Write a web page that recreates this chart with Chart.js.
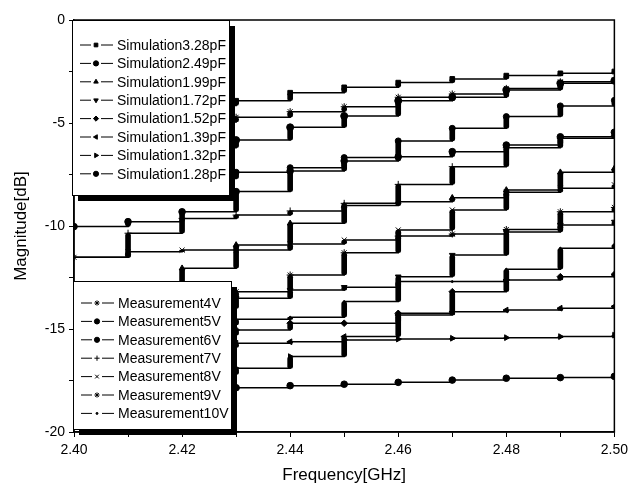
<!DOCTYPE html>
<html>
<head>
<meta charset="utf-8">
<script src="https://cdn.jsdelivr.net/npm/chart.js@4.4.1/dist/chart.umd.min.js"></script>
<style>
    html, body { margin: 0; padding: 0; background: #fff; }
</style>
</head>
<body>
<canvas id="chartArea" width="633" height="494"></canvas>
<script>
// frequency points [GHz]
var freqs = [2.40, 2.41, 2.42, 2.43, 2.44, 2.45, 2.46, 2.47, 2.48, 2.49, 2.50];

// magnitude [dB] (values left of 2.43 are mostly behind the legends)
var sim328 = [-4.60, -4.40, -4.15, -3.92, -3.53, -3.27, -3.04, -2.86, -2.70, -2.59, -2.50];
var sim249 = [-10.03, -9.79, -9.31, -8.33, -7.33, -6.84, -6.64, -6.39, -6.07, -5.67, -5.45];
var sim199 = [-13.50, -12.90, -12.05, -10.92, -9.87, -9.01, -8.82, -8.63, -8.25, -7.39, -7.20];
var sim172 = [-14.80, -14.40, -14.00, -13.51, -13.11, -12.97, -12.46, -11.41, -10.29, -9.95, -9.80];
var sim152 = [-15.80, -15.50, -15.30, -15.05, -14.72, -14.72, -14.24, -13.19, -12.62, -12.46, -12.35];
var sim139 = [-16.50, -16.20, -15.90, -15.69, -15.62, -15.37, -14.32, -14.16, -14.08, -13.99, -13.90];
var sim132 = [-17.90, -17.60, -17.20, -16.91, -16.34, -15.53, -15.49, -15.45, -15.42, -15.37, -15.30];
var sim128 = [-18.10, -18.00, -17.93, -17.85, -17.75, -17.68, -17.59, -17.48, -17.39, -17.36, -17.30];

var meas4V = [-5.50, -5.20, -4.95, -4.72, -4.45, -4.21, -3.75, -3.59, -3.32, -3.00, -2.90];
var meas5V = [-7.00, -6.60, -6.20, -5.83, -5.21, -4.66, -3.92, -3.75, -3.40, -3.07, -2.95];
var meas6V = [-8.30, -8.00, -7.70, -7.39, -7.17, -6.68, -5.87, -5.26, -4.69, -4.17, -3.90];
var meas7V = [-11.52, -10.35, -9.63, -9.47, -9.27, -8.90, -7.98, -7.12, -6.20, -5.74, -5.60];
var meas8V = [-11.52, -11.25, -11.17, -11.17, -10.87, -10.68, -10.19, -9.22, -8.36, -8.17, -8.00];
var meas9V = [-14.20, -13.90, -13.60, -13.19, -12.38, -11.30, -10.49, -10.39, -10.17, -9.31, -9.10];
var meas10V = [-15.40, -15.10, -14.80, -14.53, -14.43, -13.67, -12.70, -12.70, -12.10, -11.08, -10.90];

var simLabels = ['Simulation3.28pF', 'Simulation2.49pF', 'Simulation1.99pF', 'Simulation1.72pF',
    'Simulation1.52pF', 'Simulation1.39pF', 'Simulation1.32pF', 'Simulation1.28pF'];
var measLabels = ['Measurement4V', 'Measurement5V', 'Measurement6V', 'Measurement7V',
    'Measurement8V', 'Measurement9V', 'Measurement10V'];

var simSeries = [sim328, sim249, sim199, sim172, sim152, sim139, sim132, sim128];
var measSeries = [meas4V, meas5V, meas6V, meas7V, meas8V, meas9V, meas10V];

var simMarks = [['rect', 0], ['circle', 0], ['triangle', 0], ['triangle', 180],
    ['rectRot', 0], ['triangle', 270], ['triangle', 90], ['circle', 0]];
var measMarks = [['star', 0], ['circle', 0], ['circle', 0], ['cross', 0],
    ['crossRot', 0], ['star', 0], ['circle', 0]];
var measRadius = [3.5, 3.5, 3, 3.5, 3.5, 3.5, 1];

function toPoints(vals) {
    return vals.map(function (v, i) { return { x: freqs[i], y: v }; });
}

function lineSet(label, vals, mark, radius, group) {
    return {
        type: 'line',
        label: label,
        group: group,
        data: toPoints(vals),
        stepped: 'before',
        borderColor: '#000',
        backgroundColor: '#000',
        borderWidth: 1.5,
        pointStyle: mark[0],
        pointRotation: mark[1],
        pointRadius: radius,
        pointBorderWidth: 1,
        pointBackgroundColor: '#000',
        pointBorderColor: '#000',
        fill: false,
        order: 2
    };
}

var datasets = [];
simSeries.forEach(function (s, k) { datasets.push(lineSet(simLabels[k], s, simMarks[k], 3.3, 'sim')); });
measSeries.forEach(function (s, k) { datasets.push(lineSet(measLabels[k], s, measMarks[k], measRadius[k], 'meas')); });

// the thick vertical risers at each step
var risers = [];
simSeries.concat(measSeries).forEach(function (s) {
    for (var i = 1; i < s.length; i++) {
        risers.push({ x: freqs[i], y: [s[i - 1], s[i]] });
    }
});
datasets.push({
    type: 'bar',
    label: '',
    data: risers,
    backgroundColor: '#000',
    borderWidth: 0,
    barThickness: 5,
    borderRadius: 2.5,
    borderSkipped: false,
    grouped: false,
    order: 1
});

function drawBox(chart, x, y, w, h, group, firstRow) {
    var ctx = chart.ctx;
    ctx.fillStyle = '#000';
    ctx.fillRect(x + 6, y + 6, w, h);
    ctx.fillStyle = '#fff';
    ctx.fillRect(x, y, w, h);
    ctx.strokeStyle = '#000';
    ctx.lineWidth = 1;
    ctx.strokeRect(x + 0.5, y + 0.5, w, h);
    var row = 0;
    chart.data.datasets.forEach(function (ds) {
        if (ds.group !== group) return;
        var ry = y + firstRow + row * 18.4;
        ctx.strokeStyle = '#000';
        ctx.lineWidth = 1;
        ctx.beginPath();
        ctx.moveTo(x + 8, ry);
        ctx.lineTo(x + 19, ry);
        ctx.moveTo(x + 29, ry);
        ctx.lineTo(x + 41, ry);
        ctx.stroke();
        ctx.fillStyle = '#000';
        Chart.helpers.drawPoint(ctx, {
            pointStyle: ds.pointStyle,
            rotation: ds.pointRotation,
            radius: Math.min(ds.pointRadius, 2.6),
            borderWidth: 1
        }, x + 24, ry);
        ctx.fillStyle = '#000';
        ctx.font = '14px "Liberation Sans", Arial, sans-serif';
        ctx.textAlign = 'left';
        ctx.textBaseline = 'middle';
        ctx.fillText(ds.label, x + 45, ry + 1);
        row++;
    });
}

var boxPlugin = {
    id: 'boxLegend',
    afterDatasetsDraw: function (chart) {
        var ctx = chart.ctx, a = chart.chartArea;
        ctx.save();
        ctx.strokeStyle = '#000';
        ctx.lineWidth = 1.5;
        ctx.strokeRect(a.left, a.top, a.right - a.left, a.bottom - a.top);
        drawBox(chart, a.left - 2, a.top, 157, 175, 'sim', 25);
        drawBox(chart, a.left - 1, a.top + 261, 158, 148, 'meas', 22);
        ctx.restore();
    }
};

var ctx = document.getElementById('chartArea').getContext('2d');
var myChart = new Chart(ctx, {
    type: 'line',
    data: { datasets: datasets },
    options: {
        responsive: false,
        animation: false,
        devicePixelRatio: 1,
        layout: { padding: { left: 0, right: 18, top: 20, bottom: 0 } },
        plugins: {
            legend: { display: false },
            tooltip: { enabled: false }
        },
        scales: {
            x: {
                type: 'linear',
                min: 2.40,
                max: 2.50,
                offset: false,
                afterFit: function (scale) { scale.height = 62; },
                grid: { drawOnChartArea: false, drawTicks: true, tickLength: 5, color: '#000', offset: false },
                border: { color: '#000', width: 1.5 },
                ticks: {
                    stepSize: 0.01,
                    autoSkip: false,
                    maxRotation: 0,
                    padding: 5,
                    color: '#000',
                    font: { family: '"Liberation Sans", Arial, sans-serif', size: 14 },
                    callback: function (value) {
                        var v = Math.round(value * 100);
                        return v % 2 === 0 ? (v / 100).toFixed(2) : '';
                    }
                },
                title: {
                    display: true,
                    text: 'Frequency[GHz]',
                    color: '#000',
                    font: { family: '"Liberation Sans", Arial, sans-serif', size: 17 },
                    padding: { top: 0, bottom: 8 }
                }
            },
            y: {
                type: 'linear',
                min: -20,
                max: 0,
                afterFit: function (scale) { scale.width = 74; },
                grid: { drawOnChartArea: false, drawTicks: true, tickLength: 5, color: '#000' },
                border: { color: '#000', width: 1.5 },
                ticks: {
                    stepSize: 2.5,
                    padding: 4,
                    color: '#000',
                    font: { family: '"Liberation Sans", Arial, sans-serif', size: 14 },
                    callback: function (value) {
                        return value % 5 === 0 ? String(value) : '';
                    }
                },
                title: {
                    display: true,
                    text: 'Magnitude[dB]',
                    color: '#000',
                    font: { family: '"Liberation Sans", Arial, sans-serif', size: 17 },
                    padding: { top: 11, bottom: 0 }
                }
            }
        }
    },
    plugins: [boxPlugin]
});
</script>
</body>
</html>
